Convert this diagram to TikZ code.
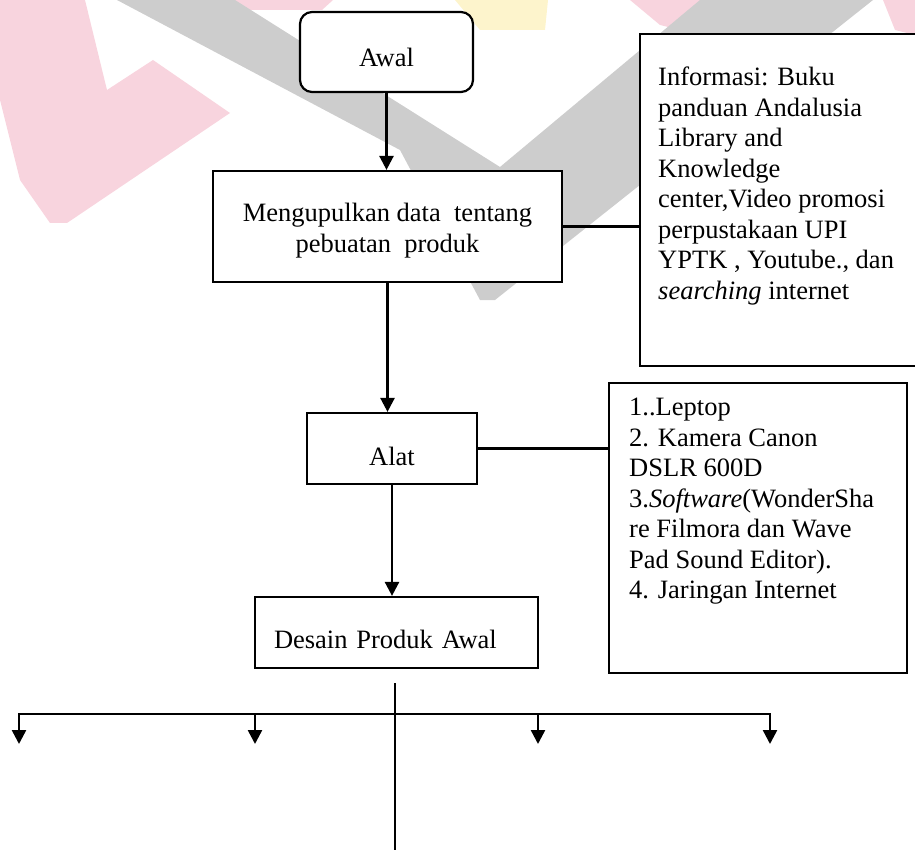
\documentclass[tikz,border=0pt]{standalone}
\usepackage{fontspec}
\setmainfont{Liberation Serif}
\usetikzlibrary{arrows.meta}
\definecolor{wmpink}{RGB}{248,212,222}
\definecolor{wmgrey}{RGB}{205,205,205}
\definecolor{wmyellow}{RGB}{253,244,204}

\begin{document}
\begin{tikzpicture}[x=1pt,y=-1pt,font=\fontsize{26.5}{30.5}\selectfont,
    box/.style={draw,fill=white,line width=2.2pt,inner sep=0pt},
    conn/.style={line width=2.5pt},
    arr/.style={line width=2.5pt,-{Triangle[length=14pt,width=14pt]}},
    txt/.style={inner sep=0pt,align=left}]
  \useasboundingbox (0,0) rectangle (915,850);
  % faded logo behind the chart
  \fill[wmpink] (0,0) -- (85,0) -- (107,90) -- (153,60) -- (230,113) -- (67,223)
    -- (50,223) -- (20,180) -- (0,100) -- cycle;
  \fill[wmpink] (233,0) -- (333,0) -- (322,10) -- (245,10) -- cycle;
  \fill[wmpink] (630,0) -- (810,0) -- (790,20) -- (700,35) -- (660,25) -- cycle;
  \fill[wmpink] (883,0) -- (915,0) -- (915,35) -- (895,30) -- cycle;
  \fill[wmyellow] (455,0) -- (548,0) -- (545,30) -- (480,30) -- cycle;
  \fill[wmgrey] (117,0) -- (235,0) -- (500,167) -- (700,0) -- (873,0) -- (495,300)
    -- (480,300) -- (400,150) -- cycle;
  % boxes
  \node[box,rounded corners=12pt,minimum width=173pt,minimum height=80pt,
    text height=30pt,text depth=0pt] (awal) at (386.5,52) {Awal};
  \node[box,minimum width=349pt,minimum height=111pt,align=center] (data)
    at (387.5,226.5) {\rule{0pt}{27pt}Mengupulkan data~ tentang\\pebuatan~ produk};
  \node[box,anchor=north west,minimum width=285pt,minimum height=332pt] (info)
    at (639,33) {};
  \node[txt,anchor=north west] (infotxt) at ([xshift=19pt,yshift=-34pt]info.north west)
    {Informasi: Buku\\panduan Andalusia\\Library and\\Knowledge\\center,Video promosi\\
     perpustakaan UPI\\YPTK , Youtube., dan\\\textit{searching} internet};
  \node[box,minimum width=170pt,minimum height=71pt,text height=33pt,text depth=0pt]
    (alat) at (392,448.5) {Alat};
  \node[box,anchor=north west,minimum width=298pt,minimum height=290pt] (list)
    at (608,382) {};
  \node[txt,anchor=north west] (listtxt) at ([xshift=21pt,yshift=-16pt]list.north west)
    {1..Leptop\\2. Kamera Canon\\DSLR 600D\\3.\textit{Software}(WonderSha\\
     re Filmora dan Wave\\Pad Sound Editor).\\4. Jaringan Internet};
  \node[box,minimum width=283pt,minimum height=71pt,text width=245pt,align=left,
    inner xsep=19pt,text height=31pt,text depth=0pt] (desain) at (396.5,632.5)
    {Desain Produk Awal};
  % connectors
  \draw[arr] (awal.south) -- (awal.south |- data.north);
  \draw[conn] (data.east) -- (data.east -| info.west);
  \draw[arr] (data.south) -- (data.south |- alat.north);
  \draw[conn] (alat.east) -- (alat.east -| list.west);
  \draw[arr] (alat.south) -- (alat.south |- desain.north);
  % branches below the design
  \coordinate (trunktop) at (395,683);
  \coordinate (trunkend) at (395,852);
  \coordinate (barl) at (19,714);
  \coordinate (barr) at (770,714);
  \draw[conn] (trunktop) -- (trunkend);
  \draw[conn,line cap=rect] (barl) -- (barr);
  \foreach \x [count=\i] in {19,255,538,770}{
    \coordinate (tip\i) at (\x,744);
    \draw[arr] (tip\i |- barl) -- (tip\i);
  }
\end{tikzpicture}
\end{document}
